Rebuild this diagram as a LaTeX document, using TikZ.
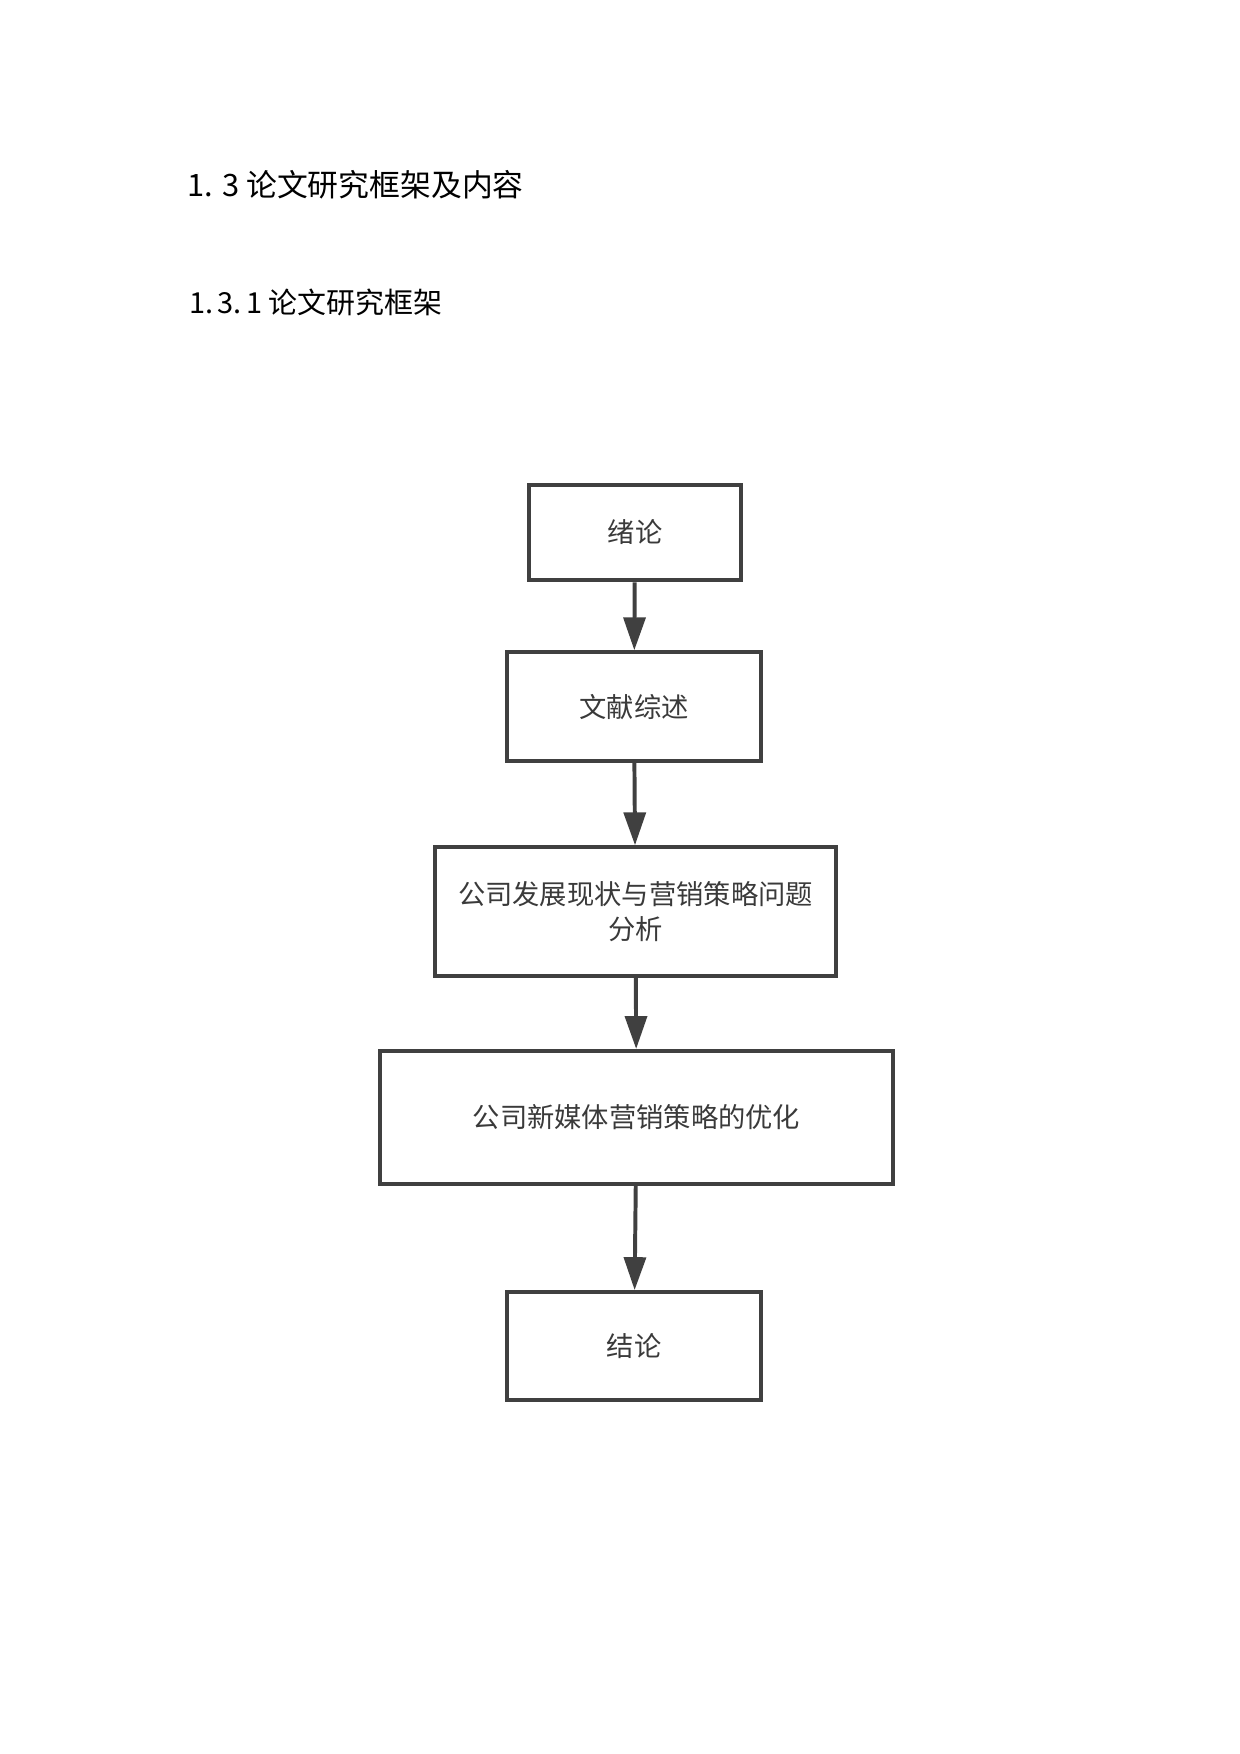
\documentclass[tikz,border=0pt]{standalone}
\usepackage{fontspec}
\usepackage{tikz}
\usetikzlibrary{arrows.meta}
\newfontfamily\cjk{Noto Sans CJK SC}
\definecolor{lineGray}{RGB}{64,64,64}
\definecolor{textGray}{RGB}{58,58,58}

\begin{document}
\begin{tikzpicture}[x=0.48pt,y=-0.48pt,
  box/.style={draw=lineGray,line width=1.9pt,inner sep=0pt,text=textGray,align=center,font=\cjk\fontsize{13.1}{16.8}\selectfont},
  arr/.style={draw=lineGray,line width=1.9pt,-{Triangle[width=10.5pt,length=15.8pt]}}]
%set the page: 1240 x 1754
\useasboundingbox (0,0) rectangle (1240,1754);

% Headings
\node [anchor=base west,inner sep=0pt,font=\cjk\fontsize{14.8}{18}\selectfont] (title) at (187,196) {1. 3 论文研究框架及内容};
\node [anchor=base west,inner sep=0pt,font=\cjk\fontsize{13.9}{17}\selectfont] (subtitle) at (189,313) {1.\hspace{0.15em}3.\hspace{0.15em}1\hspace{0.22em}论文研究框架};

% Boxes
\node [box,minimum width=101.8pt,minimum height=46pt] (intro) at (635,532.5) {绪论};
\node [box,minimum width=121.9pt,minimum height=52.3pt] (review) at (634,706.7) {文献综述};
\node [box,minimum width=192.8pt,minimum height=61.9pt] (status) at (635.5,911.7) {公司发展现状与营销策略问题\\分析};
\node [box,minimum width=246.2pt,minimum height=63.8pt] (optim) at (636.5,1117.4) {公司新媒体营销策略的优化};
\node [box,minimum width=121.9pt,minimum height=51.8pt] (concl) at (634,1346) {结论};

% Arrows
\draw [arr] (intro) -- (review);
\draw [arr] (review) -- (status);
\draw [arr] (status) -- (optim);
\draw [arr] (optim) -- (concl);

\end{tikzpicture}
\end{document}
